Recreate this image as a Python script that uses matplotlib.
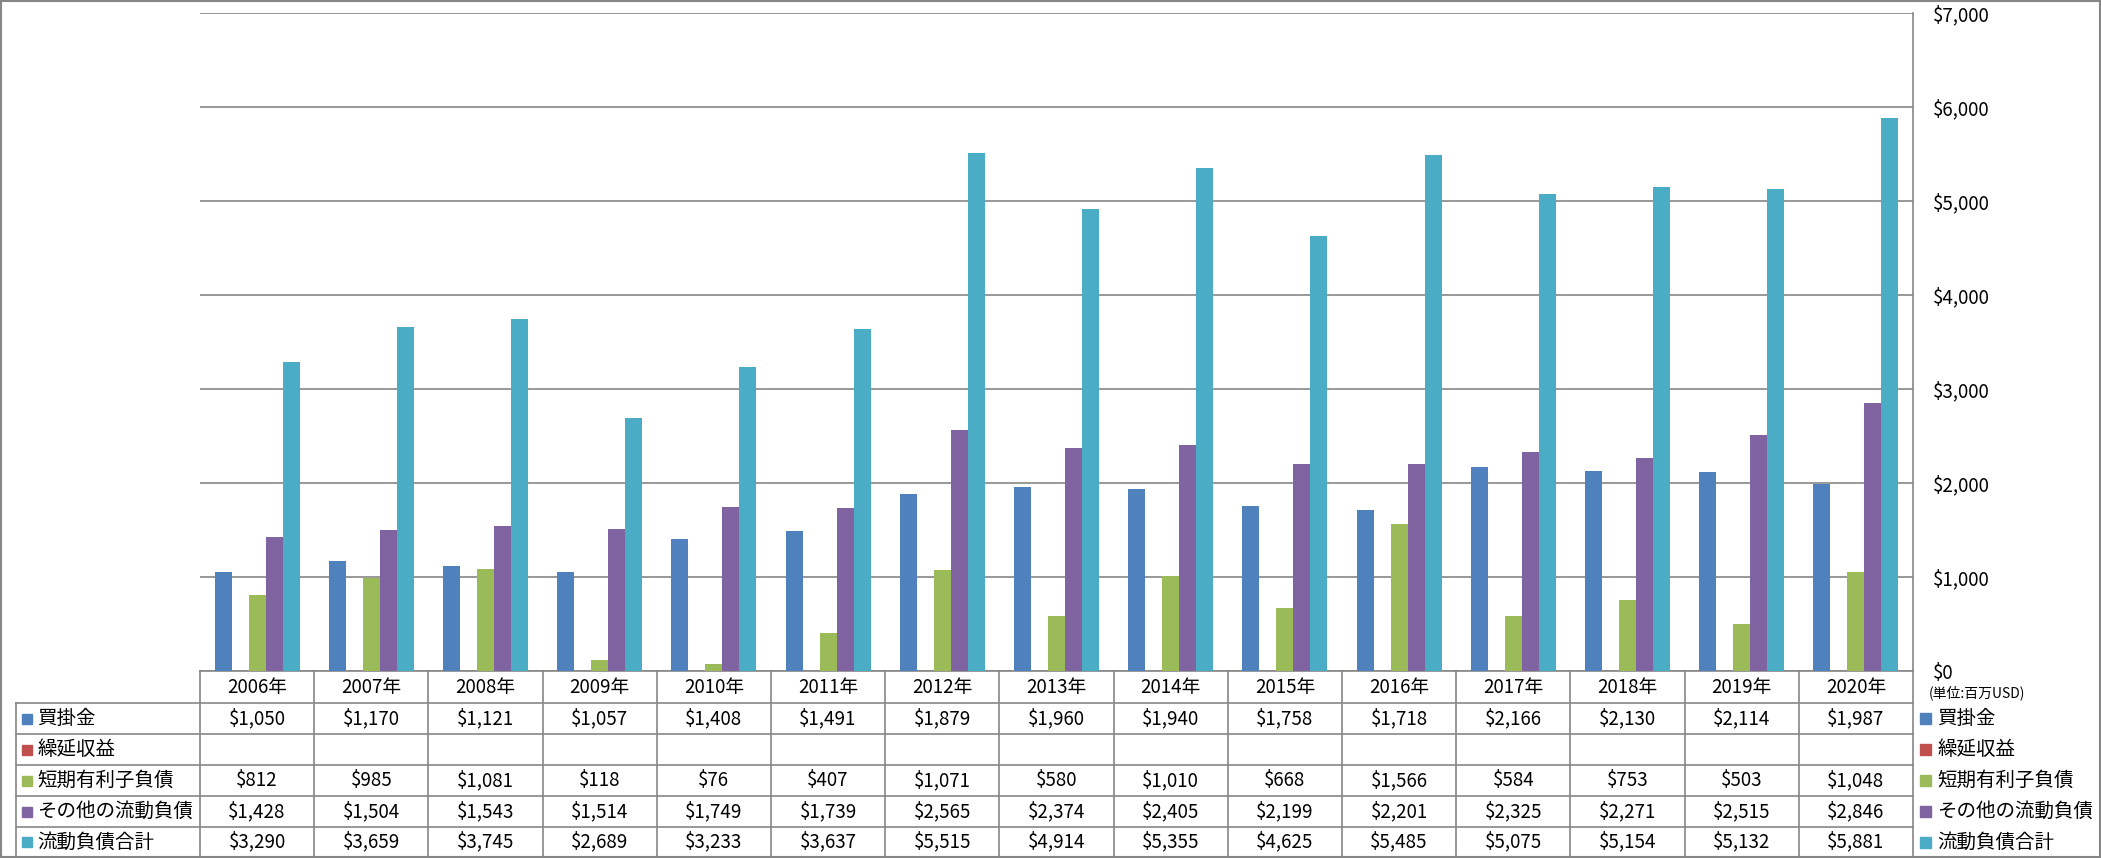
import numpy as np
import matplotlib
matplotlib.use("Agg")
import matplotlib.pyplot as plt
from matplotlib.patches import Rectangle

plt.rcParams["font.family"] = ["Noto Sans CJK JP", "DejaVu Sans"]

years = ["2006年", "2007年", "2008年", "2009年", "2010年", "2011年", "2012年", "2013年",
         "2014年", "2015年", "2016年", "2017年", "2018年", "2019年", "2020年"]
series_names = ["買掛金", "繰延収益", "短期有利子負債", "その他の流動負債", "流動負債合計"]
colors = ["#4F81BD", "#C0504D", "#9BBB59", "#8064A2", "#4BACC6"]

kaikake = [1050, 1170, 1121, 1057, 1408, 1491, 1879, 1960, 1940, 1758, 1718, 2166, 2130, 2114, 1987]
kurinobe = [np.nan] * 15
tanki = [812, 985, 1081, 118, 76, 407, 1071, 580, 1010, 668, 1566, 584, 753, 503, 1048]
sonota = [1428, 1504, 1543, 1514, 1749, 1739, 2565, 2374, 2405, 2199, 2201, 2325, 2271, 2515, 2846]
goukei = [3290, 3659, 3745, 2689, 3233, 3637, 5515, 4914, 5355, 4625, 5485, 5075, 5154, 5132, 5881]
values = [kaikake, kurinobe, tanki, sonota, goukei]

W, H = 2101, 858
fig = plt.figure(figsize=(W / 100, H / 100), dpi=100)

# plot area in pixels
px0, px1 = 200, 1913
py0, py1 = 13, 671
ax = fig.add_axes([px0 / W, (H - py1) / H, (px1 - px0) / W, (py1 - py0) / H])

gray = "#868686"
x = np.arange(len(years))
w = 0.149
for k, (vals, c) in enumerate(zip(values, colors)):
    ax.bar(x + (k - 2) * w, vals, width=w, color=c, zorder=3)

ax.set_xlim(-0.5, len(years) - 0.5)
ax.set_ylim(0, 7000)
ax.set_yticks(np.arange(0, 7001, 1000))
ax.set_yticklabels(["${:,.0f}".format(v) for v in np.arange(0, 7001, 1000)])
ax.yaxis.tick_right()
ax.tick_params(axis="y", length=0, pad=14.4, labelsize=13.5, colors="black")
ax.set_xticks([])
ax.grid(axis="y", color=gray, linewidth=1.2, zorder=0)
for s in ["top", "left"]:
    ax.spines[s].set_visible(False)
for s in ["right", "bottom"]:
    ax.spines[s].set_color(gray)
    ax.spines[s].set_linewidth(1.2)

# overlay in pixel coordinates for the data table and legend
ov = fig.add_axes([0, 0, 1, 1])
ov.set_xlim(0, W)
ov.set_ylim(H, 0)
ov.axis("off")
ov.patch.set_alpha(0)

colw = (px1 - px0) / len(years)
rows = [671, 703, 734, 765, 796, 827, 857]
lx = 16
lw = 1.2

for i in range(len(years) + 1):
    xc = px0 + i * colw
    ov.plot([xc, xc], [rows[0], rows[-1]], color=gray, lw=lw)
ov.plot([lx, lx], [rows[1], rows[-1]], color=gray, lw=lw)
for r in rows[1:-1]:
    ov.plot([lx, px1], [r, r], color=gray, lw=lw)

for i, yl in enumerate(years):
    ov.text(px0 + (i + 0.5) * colw, (rows[0] + rows[1]) / 2, yl, ha="center", va="center",
            fontsize=13.5)

for k, (name, vals, c) in enumerate(zip(series_names, values, colors)):
    yc = (rows[k + 1] + rows[k + 2]) / 2
    ov.add_patch(Rectangle((22, yc - 5), 10, 10, color=c))
    ov.text(37, yc, name, ha="left", va="center", fontsize=14)
    for i, v in enumerate(vals):
        if not np.isnan(v):
            ov.text(px0 + (i + 0.5) * colw, yc, "${:,.0f}".format(v), ha="center",
                    va="center", fontsize=13.5)
    # legend at right
    ov.add_patch(Rectangle((1920, yc - 5.5), 11, 11, color=c))
    ov.text(1937, yc, name, ha="left", va="center", fontsize=14)

ov.text(1929, 693, "(単位:百万USD)", ha="left", va="center", fontsize=10)

# outer border
ov.add_patch(Rectangle((1, 1), W - 2.5, H - 2.5, fill=False, edgecolor=gray, lw=1.5))

fig.savefig("out.png", dpi=100)
